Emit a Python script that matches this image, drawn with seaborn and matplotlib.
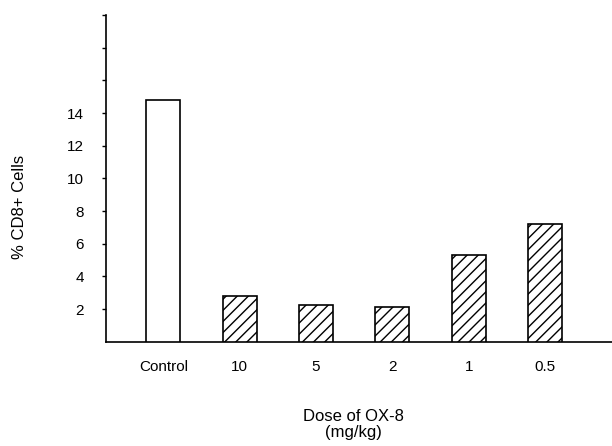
import matplotlib
matplotlib.use("Agg")
import matplotlib.pyplot as plt
import seaborn as sns
import pandas as pd

categories = ["Control", "10", "5", "2", "1", "0.5"]
values = [14.8, 2.8, 2.23, 2.14, 5.3, 7.2]
ytick_values = [2, 4, 6, 8, 10, 12, 14, 16, 18, 20]
ytick_labels = ["2", "4", "6", "8", "10", "12", "14", "", "", ""]

sns.set_theme(style="white")
plt.rcParams["font.family"] = ["Liberation Sans", "DejaVu Sans"]
plt.rcParams["hatch.linewidth"] = 1.0
plt.rcParams["hatch.color"] = "black"

df = pd.DataFrame({"dose": categories, "pct": values})

fig = plt.figure(figsize=(6.12, 4.46), dpi=100)
ax = fig.add_axes([106 / 612, 1 - 341.7 / 446, 506 / 612, 326.7 / 446])

sns.barplot(data=df, x="dose", y="pct", order=categories, color="white",
            edgecolor="black", linewidth=1.2, width=0.445, ax=ax, zorder=3)

for i, p in enumerate(ax.patches):
    p.set_facecolor("white")
    p.set_edgecolor("black")
    if i > 0:
        p.set_hatch("///")

ax.set_ylim(0, 20)
ax.set_xlim(-0.752, 5.877)
ax.set_yticks(ytick_values)
ax.set_yticklabels(ytick_labels)

for s in ["top", "right"]:
    ax.spines[s].set_visible(False)
for s in ["left", "bottom"]:
    ax.spines[s].set_color("black")
    ax.spines[s].set_linewidth(1.2)

ax.tick_params(axis="y", direction="out", length=3, width=1.0, color="black",
               pad=13, labelsize=11, left=True)
ax.tick_params(axis="x", length=0, pad=13, labelsize=11)
for t in ax.get_xticklabels() + ax.get_yticklabels():
    t.set_color("black")

ax.set_xlabel("Dose of OX-8\n(mg/kg)", fontsize=12, color="black",
              linespacing=1.1)
ax.xaxis.set_label_coords(0.489, -0.205)
ax.xaxis.label.set_va("top")

ax.set_ylabel("% CD8+ Cells", fontsize=12, color="black")
ax.yaxis.set_label_coords(-0.170, 0.412)
ax.yaxis.label.set_va("center")

ax.grid(False)
fig.savefig("out.png", dpi=100, facecolor="white")
